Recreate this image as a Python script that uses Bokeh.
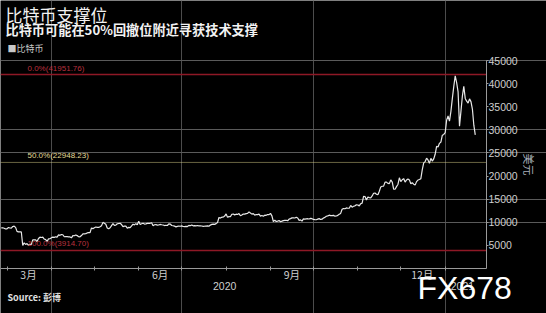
import pandas as pd
from datetime import datetime
from bokeh.plotting import figure
from bokeh.models import (Range1d, FixedTicker, Label, ColumnDataSource, CustomJSTickFormatter)
from bokeh.embed import file_html
from bokeh.resources import INLINE

# ---- data (daily values, USD) ----
price_feb = [8785, 8807, 8710, 8563]  # from Feb 26 2020
price_mar = [8560, 8870, 8760, 8750, 9080, 9150, 8890, 8040, 7920, 7910, 7910, 4970, 5560, 5200, 5390, 5010,
             5230, 5230, 6190, 6190, 6200, 5830, 6480, 6770, 6700, 6770, 6380, 6250, 5880, 6400, 6440]
price_apr = [6640, 6790, 6740, 6860, 6790, 7270, 7180, 7340, 7300, 6870, 6890, 6910, 6860, 6840, 6640, 7100,
             7090, 7260, 7120, 6880, 6860, 7130, 7480, 7510, 7540, 7700, 7760, 7760, 8780, 8620]
price_may = [8830, 8970, 8900, 8880, 9030, 9270, 9980, 9810, 9590, 8750, 8600, 8810, 9270, 9730, 9310, 9380,
             9670, 9730, 9790, 9510, 9060, 9170, 9180, 8720, 8900, 8840, 9200, 9580, 9430, 9700, 9460]
price_jun = [10200, 9520, 9670, 9790, 9620, 9670, 9750, 9790, 9780, 9890, 9270, 9470, 9480, 9390, 9430, 9530,
             9460, 9410, 9290, 9360, 9300, 9650, 9620, 9300, 9250, 9160, 9010, 9120, 9190, 9140]
price_jul = [9230, 9090, 9070, 9130, 9070, 9340, 9250, 9430, 9240, 9290, 9240, 9300, 9240, 9250, 9190, 9130,
             9150, 9180, 9210, 9160, 9390, 9540, 9610, 9550, 9710, 9930, 11030, 10910, 11100, 11110, 11350]
price_aug = [11800, 11070, 11230, 11190, 11740, 11770, 11600, 11750, 11680, 11880, 11410, 11580, 11780, 11770,
             11870, 11910, 12250, 11990, 11760, 11860, 11530, 11680, 11650, 11760, 11330, 11460, 11320, 11540,
             11510, 11680, 11650]
price_sep = [11920, 11390, 10170, 10470, 10170, 10240, 10370, 10130, 10240, 10360, 10400, 10440, 10330, 10680,
             10790, 10950, 10940, 10930, 11090, 10920, 10420, 10530, 10240, 10740, 10690, 10730, 10770, 10710,
             10840, 10780]
price_oct = [10620, 10580, 10550, 10670, 10790, 10600, 10670, 10920, 11060, 11300, 11380, 11540, 11430, 11430,
             11500, 11320, 11360, 11490, 11750, 11920, 12820, 12970, 12930, 13110, 13030, 13030, 13650, 13270,
             13460, 13560, 13780]
price_nov = [13740, 13550, 14020, 14150, 15590, 15580, 14840, 15480, 15330, 15300, 15700, 16280, 16320, 16070,
             15960, 16720, 17650, 17800, 17820, 18680, 18680, 18420, 18360, 19160, 18720, 17150, 17140, 17720,
             18180, 19630]
price_dec = [18800, 19200, 19450, 18700, 19150, 19360, 19170, 18320, 18550, 18250, 18040, 18800, 19140, 19250,
             19440, 21380, 22850, 23130, 23860, 23480, 22740, 23820, 23240, 23730, 24710, 26440, 26280, 27080,
             27360, 28840, 29000]
price_jan = [29400, 32100, 33000, 31900, 34000, 36800, 39400, 41700, 40200, 38200, 30800, 34000, 37300, 39400,
             36800, 36200, 35800, 36700, 36100, 34500, 31000, 28900]

month_starts = [datetime(2020, 2, 26), datetime(2020, 3, 1), datetime(2020, 4, 1), datetime(2020, 5, 1),
                datetime(2020, 6, 1), datetime(2020, 7, 1), datetime(2020, 8, 1), datetime(2020, 9, 1),
                datetime(2020, 10, 1), datetime(2020, 11, 1), datetime(2020, 12, 1), datetime(2021, 1, 1)]
month_prices = [price_feb, price_mar, price_apr, price_may, price_jun, price_jul, price_aug, price_sep,
                price_oct, price_nov, price_dec, price_jan]

retr_levels = [41951.76, 22948.23, 3914.70]
retr_labels = ["0.0%(41951.76)", "50.0%(22948.23)", "100.0%(3914.70)"]
retr_colors = ["#8e1826", "#cfc882", "#8e1826"]
retr_text_colors = ["#b8303e", "#e2da96", "#b8303e"]

y_ticks = [5000, 10000, 15000, 20000, 25000, 30000, 35000, 40000, 45000]
y_grid = [10000, 15000, 25000, 30000, 45000]
month_label_dates = [datetime(2020, 3, 16), datetime(2020, 6, 16), datetime(2020, 9, 16), datetime(2020, 12, 16)]
month_tick_dates = [datetime(2020, m, 1) for m in range(3, 13)] + [datetime(2021, 1, 1)]
quarter_grid = [datetime(2020, 4, 1), datetime(2020, 7, 1), datetime(2020, 10, 1), datetime(2021, 1, 1)]
year_labels = ["2020", "2021"]
year_label_dates = [datetime(2020, 7, 31), datetime(2021, 1, 13)]

title = "比特币支撑位"
subtitle = "比特币可能在50%回撤位附近寻获技术支撑"
legend_text = "■比特币"
source_text = "Source: 彭博"
y_unit = "美元"
watermark = "FX678"

# ---- build ----
dates, prices = [], []
for start, vals in zip(month_starts, month_prices):
    dates += list(pd.date_range(start, periods=len(vals), freq="D"))
    prices += vals
src = ColumnDataSource(dict(date=dates, price=prices))


def ms(d):
    return pd.Timestamp(d).value / 1e6


W, H = 546, 313
PLOT_R, PLOT_T, PLOT_B = 486, 60, 268          # plot area inside the canvas (px)
PX_PER_DAY = 1.432
X0 = pd.Timestamp(2020, 3, 1) - pd.Timedelta(days=6.5 / PX_PER_DAY)
X_END = X0 + pd.Timedelta(days=W / PX_PER_DAY)
X_AXIS_END = X0 + pd.Timedelta(days=PLOT_R / PX_PER_DAY)
Y_TOP_VAL = 45000
PX_PER_UNIT = (PLOT_B - PLOT_T) / Y_TOP_VAL
Y0 = -(H - PLOT_B) / PX_PER_UNIT
Y1 = PLOT_B / PX_PER_UNIT

p = figure(width=W, height=H, x_axis_type="datetime", y_axis_location="right",
           output_backend="svg", toolbar_location=None,
           x_range=Range1d(X0, X_END), y_range=Range1d(Y0, Y1),
           min_border_left=0, min_border_right=0, min_border_top=0, min_border_bottom=0)
p.background_fill_color = "#000000"
p.border_fill_color = "#000000"
p.outline_line_color = None

# grids
p.xgrid.ticker = FixedTicker(ticks=[ms(d) for d in quarter_grid])
p.xgrid.grid_line_color = "#4c4c4c"
p.xgrid.bounds = (0, Y_TOP_VAL)
p.ygrid.ticker = FixedTicker(ticks=y_grid)
p.ygrid.grid_line_color = "#5a5a5a"
p.ygrid.bounds = (ms(X0), ms(X_AXIS_END))

# y axis (right)
ya = p.yaxis[0]
ya.fixed_location = ms(X_AXIS_END)
ya.bounds = (0, Y_TOP_VAL)
ya.ticker = FixedTicker(ticks=y_ticks)
ya.axis_line_color = "#9a9a9a"
ya.major_tick_line_color = "#9a9a9a"
ya.major_tick_in = 0
ya.major_tick_out = 2
ya.minor_tick_line_color = None
ya.major_label_standoff = 0
ya.major_label_text_color = "#cfcfcf"
ya.major_label_text_font = "Liberation Sans"
ya.major_label_text_font_size = "10.5px"
ya.axis_label = y_unit
ya.axis_label_text_font = "Noto Sans CJK SC"
ya.axis_label_text_font_size = "11px"
ya.axis_label_text_font_style = "normal"
ya.axis_label_text_color = "#a9b0bc"
ya.axis_label_standoff = 0

# x axis
xa = p.xaxis[0]
xa.fixed_location = 0
xa.bounds = (ms(X0), ms(X_AXIS_END))
xa.ticker = FixedTicker(ticks=[ms(d) for d in month_label_dates],
                        minor_ticks=[ms(d) for d in month_tick_dates])
xa.formatter = CustomJSTickFormatter(code="const d = new Date(tick); return (d.getUTCMonth() + 1) + '月';")
xa.axis_line_color = "#9a9a9a"
xa.major_tick_line_color = None
xa.major_tick_in = 0
xa.major_tick_out = 0
xa.minor_tick_line_color = "#9a9a9a"
xa.minor_tick_in = 2
xa.minor_tick_out = 2
xa.major_label_standoff = -4
xa.major_label_text_color = "#cfcfcf"
xa.major_label_text_font = "Noto Sans CJK SC"
xa.major_label_text_font_size = "10.5px"

# retracement levels
for lvl, lab, col, tcol in zip(retr_levels, retr_labels, retr_colors, retr_text_colors):
    dotted = lab.startswith("50")
    p.line([X0, X_AXIS_END], [lvl, lvl], line_color=col,
           line_width=1 if dotted else 1.5, line_dash="1 1" if dotted else "solid")
    p.add_layout(Label(x=27, x_units="canvas", y=lvl, text=lab, text_color=tcol,
                       text_font="Liberation Sans", text_font_size="8px",
                       text_baseline="bottom", y_offset=2))

# price line
p.line("date", "price", source=src, line_color="#e8e8e8", line_width=1.2)


def canvas_label(x, y, text, **kw):
    p.add_layout(Label(x=x, y=y, x_units="canvas", y_units="canvas", text=text, **kw))


canvas_label(5, 14, title, text_color="#f2f2f2", text_font="Noto Sans CJK SC", text_font_size="17px",
             text_baseline="middle")
canvas_label(5, 29, subtitle, text_color="#f2f2f2", text_font="Noto Sans CJK SC", text_font_size="13.2px",
             text_font_style="bold", text_baseline="middle")
canvas_label(7, 48, legend_text, text_color="#c8c8c8", text_font="Noto Sans CJK SC", text_font_size="9px",
             text_baseline="middle")
canvas_label(7, 297, source_text, text_color="#e0e0e0", text_font="Noto Sans CJK SC", text_font_size="9px",
             text_font_style="bold", text_baseline="middle")

for d, yl in zip(year_label_dates, year_labels):
    p.add_layout(Label(x=d, y=285, y_units="canvas", text=yl, text_color="#cfcfcf",
                       text_font="Liberation Sans", text_font_size="10.5px",
                       text_align="center", text_baseline="middle"))

canvas_label(417, 287, watermark, text_color="#ffffff", text_font="Liberation Sans", text_font_size="32px",
             text_baseline="alphabetic")

open("out.html", "w").write(file_html(p, INLINE))
